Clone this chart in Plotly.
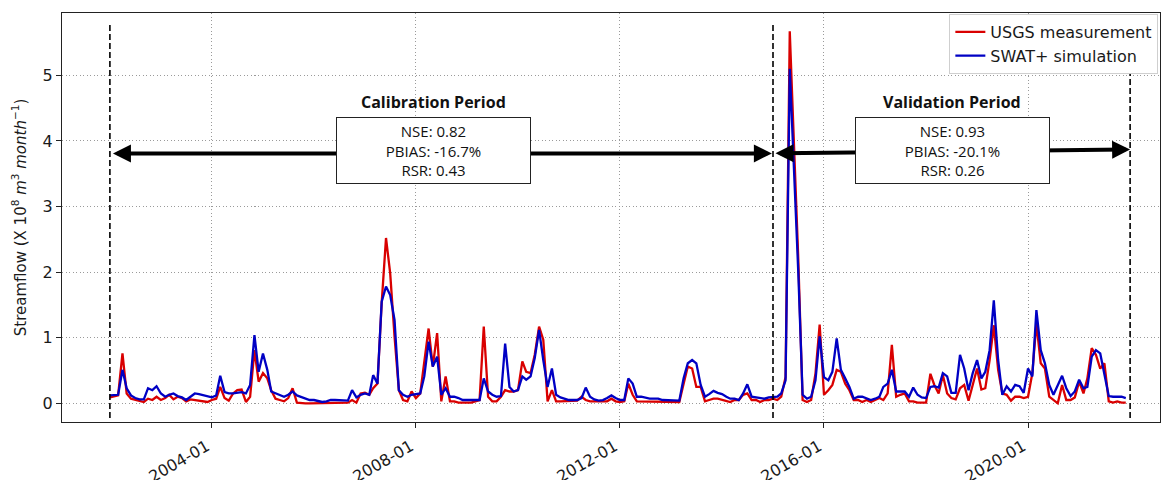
import pandas as pd
import plotly.graph_objects as go

# ---------------- data (monthly, 2002-01 .. 2021-12) ----------------
start_month = "2002-01-01"
n_months = 240

usgs_measurement = [
    # 2002
    0.09, 0.10, 0.12, 0.76, 0.15, 0.07, 0.05, 0.03, 0.02, 0.07, 0.05, 0.10,
    # 2003
    0.05, 0.08, 0.13, 0.06, 0.10, 0.08, 0.03, 0.06, 0.05, 0.03, 0.02, 0.02,
    # 2004
    0.05, 0.07, 0.25, 0.08, 0.04, 0.15, 0.20, 0.21, 0.02, 0.10, 0.81, 0.33,
    # 2005
    0.46, 0.38, 0.20, 0.07, 0.05, 0.03, 0.08, 0.23, 0.01, 0.00, 0.00, 0.00,
    # 2006
    0.00, 0.00, 0.00, 0.00, 0.01, 0.01, 0.00, 0.00, 0.01, 0.05, 0.01, 0.15,
    # 2007
    0.16, 0.13, 0.23, 0.30, 1.53, 2.52, 1.98, 1.02, 0.20, 0.05, 0.03, 0.18,
    # 2008
    0.08, 0.15, 0.64, 1.14, 0.56, 1.07, 0.03, 0.41, 0.03, 0.03, 0.01, 0.01,
    # 2009
    0.01, 0.01, 0.03, 0.05, 1.17, 0.10, 0.03, 0.03, 0.10, 0.20, 0.18, 0.18,
    # 2010
    0.20, 0.64, 0.48, 0.46, 0.74, 1.17, 0.97, 0.03, 0.20, 0.03, 0.03, 0.03,
    # 2011
    0.03, 0.03, 0.04, 0.10, 0.05, 0.03, 0.03, 0.02, 0.03, 0.03, 0.07, 0.03,
    # 2012
    0.02, 0.03, 0.30, 0.13, 0.03, 0.03, 0.02, 0.02, 0.02, 0.02, 0.02, 0.02,
    # 2013
    0.02, 0.02, 0.02, 0.30, 0.56, 0.53, 0.25, 0.25, 0.03, 0.05, 0.07, 0.07,
    # 2014
    0.05, 0.03, 0.02, 0.05, 0.05, 0.13, 0.15, 0.05, 0.05, 0.02, 0.05, 0.05,
    # 2015
    0.07, 0.05, 0.10, 0.40, 5.67, 3.90, 2.20, 0.05, 0.02, 0.05, 0.45, 1.20,
    # 2016
    0.13, 0.20, 0.28, 0.51, 0.48, 0.30, 0.20, 0.05, 0.05, 0.02, 0.05, 0.02,
    # 2017
    0.05, 0.08, 0.05, 0.15, 0.89, 0.10, 0.13, 0.15, 0.03, 0.03, 0.01, 0.01,
    # 2018
    0.01, 0.45, 0.28, 0.15, 0.43, 0.15, 0.08, 0.06, 0.23, 0.28, 0.04, 0.28,
    # 2019
    0.53, 0.21, 0.23, 0.66, 1.19, 0.51, 0.15, 0.13, 0.04, 0.10, 0.10, 0.08,
    # 2020
    0.10, 0.46, 1.22, 0.61, 0.53, 0.10, 0.05, 0.00, 0.28, 0.05, 0.05, 0.09,
    # 2021
    0.33, 0.15, 0.38, 0.84, 0.74, 0.53, 0.61, 0.03, 0.01, 0.03, 0.01, 0.01,
]

swat_simulation = [
    # 2002
    0.12, 0.13, 0.13, 0.51, 0.23, 0.12, 0.08, 0.06, 0.06, 0.23, 0.20, 0.26,
    # 2003
    0.15, 0.10, 0.13, 0.15, 0.11, 0.09, 0.05, 0.10, 0.15, 0.14, 0.12, 0.10,
    # 2004
    0.09, 0.12, 0.42, 0.17, 0.15, 0.15, 0.16, 0.17, 0.15, 0.28, 1.04, 0.48,
    # 2005
    0.76, 0.51, 0.18, 0.15, 0.13, 0.10, 0.13, 0.18, 0.12, 0.10, 0.08, 0.05,
    # 2006
    0.05, 0.03, 0.02, 0.03, 0.05, 0.05, 0.05, 0.04, 0.04, 0.20, 0.09, 0.13,
    # 2007
    0.15, 0.13, 0.43, 0.30, 1.55, 1.78, 1.65, 1.27, 0.20, 0.13, 0.10, 0.13,
    # 2008
    0.14, 0.15, 0.41, 0.94, 0.56, 0.71, 0.13, 0.23, 0.10, 0.10, 0.08, 0.05,
    # 2009
    0.05, 0.05, 0.05, 0.05, 0.38, 0.18, 0.13, 0.10, 0.11, 0.91, 0.25, 0.18,
    # 2010
    0.20, 0.41, 0.36, 0.41, 0.69, 1.12, 0.66, 0.25, 0.53, 0.13, 0.09, 0.07,
    # 2011
    0.05, 0.05, 0.05, 0.08, 0.24, 0.10, 0.06, 0.04, 0.05, 0.08, 0.12, 0.08,
    # 2012
    0.05, 0.05, 0.38, 0.30, 0.10, 0.10, 0.08, 0.07, 0.07, 0.07, 0.05, 0.05,
    # 2013
    0.04, 0.04, 0.04, 0.38, 0.61, 0.66, 0.61, 0.28, 0.10, 0.14, 0.19, 0.16,
    # 2014
    0.14, 0.10, 0.07, 0.07, 0.05, 0.15, 0.29, 0.10, 0.09, 0.07, 0.07, 0.09,
    # 2015
    0.10, 0.10, 0.15, 0.35, 5.10, 3.60, 2.00, 0.13, 0.07, 0.10, 0.35, 1.02,
    # 2016
    0.40, 0.35, 0.48, 0.99, 0.51, 0.38, 0.25, 0.07, 0.10, 0.10, 0.07, 0.05,
    # 2017
    0.07, 0.10, 0.25, 0.30, 0.51, 0.18, 0.18, 0.18, 0.10, 0.24, 0.13, 0.09,
    # 2018
    0.08, 0.25, 0.26, 0.24, 0.46, 0.41, 0.16, 0.16, 0.74, 0.53, 0.20, 0.46,
    # 2019
    0.66, 0.38, 0.48, 0.81, 1.57, 0.66, 0.13, 0.26, 0.18, 0.28, 0.26, 0.16,
    # 2020
    0.53, 0.41, 1.42, 0.81, 0.61, 0.28, 0.13, 0.28, 0.42, 0.23, 0.11, 0.18,
    # 2021
    0.36, 0.23, 0.25, 0.71, 0.81, 0.76, 0.43, 0.11, 0.10, 0.10, 0.10, 0.08,
]

series_names = ["USGS measurement", "SWAT+ simulation"]
period_boundaries = ["2002-01-01", "2015-01-01", "2022-01-01"]
period_titles = ["Calibration Period", "Validation Period"]
period_stats = [
    ["NSE: 0.82", "PBIAS: -16.7%", "RSR: 0.43"],
    ["NSE: 0.93", "PBIAS: -20.1%", "RSR: 0.26"],
]
x_tick_dates = ["2004-01-01", "2008-01-01", "2012-01-01", "2016-01-01", "2020-01-01"]
x_tick_labels = ["2004-01", "2008-01", "2012-01", "2016-01", "2020-01"]
y_tick_values = [0, 1, 2, 3, 4, 5]

dates = pd.date_range(start_month, periods=n_months, freq="MS")

# ---------------- figure ----------------
RED = "#d90000"
BLUE = "#0000c4"
TICK_FONT = dict(family="DejaVu Sans", size=16, color="#1a1a1a")

fig = go.Figure()
fig.add_trace(go.Scatter(x=dates, y=usgs_measurement, mode="lines",
                         name=series_names[0], line=dict(color=RED, width=2.3)))
fig.add_trace(go.Scatter(x=dates, y=swat_simulation, mode="lines",
                         name=series_names[1], line=dict(color=BLUE, width=2.3)))

# vertical dashed period boundaries
for d in period_boundaries:
    fig.add_shape(type="line", xref="x", yref="paper", x0=d, x1=d, y0=0.01, y1=0.975,
                  line=dict(color="black", width=1.6, dash="6px,3px"))

# double-headed arrows
arrow_specs = [
    ("2002-01-12", 3.81, "2014-12-24", 3.81),
    ("2015-01-08", 3.81, "2022-01-01", 3.87),
]
for x0, y0, x1, y1 in arrow_specs:
    fig.add_annotation(x=x1, y=y1, ax=x0, ay=y0, xref="x", yref="y", axref="x", ayref="y",
                       text="", showarrow=True, arrowside="end+start",
                       arrowhead=2, startarrowhead=2, arrowsize=0.9, startarrowsize=0.9,
                       arrowwidth=4, arrowcolor="black", standoff=0, startstandoff=0)

# period boxes
box_centers = [0.3383, 0.8106]
for cx, title, stats in zip(box_centers, period_titles, period_stats):
    fig.add_annotation(x=cx, y=0.665, xref="paper", yref="paper", showarrow=False,
                       text="<br>".join(stats), align="center",
                       font=dict(family="Open Sans", size=15, color="#111"),
                       bgcolor="white", bordercolor="#222", borderwidth=1, borderpad=1,
                       width=191, height=63, xanchor="center", yanchor="middle")
    fig.add_annotation(x=cx, y=0.783, xref="paper", yref="paper", showarrow=False,
                       text="<b>" + title + "</b>",
                       font=dict(family="Open Sans", size=16, color="#111"),
                       xanchor="center", yanchor="middle")

axis_common = dict(showline=True, linecolor="#222", linewidth=1.2, mirror=True,
                   ticks="outside", ticklen=5, tickwidth=1, tickcolor="#222",
                   showgrid=True, gridcolor="#9a9a9a", gridwidth=1, griddash="1px,2.5px",
                   zeroline=False, tickfont=TICK_FONT, automargin=False)

fig.update_layout(
    width=1171, height=480,
    margin=dict(l=62, r=11, t=13, b=58),
    paper_bgcolor="white", plot_bgcolor="white",
    showlegend=True,
    legend=dict(x=0.9985, y=0.9975, xanchor="right", yanchor="top",
                bgcolor="white", bordercolor="#cfcfcf", borderwidth=1,
                font=dict(family="DejaVu Sans", size=16, color="#1a1a1a")),
    xaxis=dict(type="date", range=["2001-01-23", "2022-08-03"],
               tickvals=x_tick_dates, ticktext=x_tick_labels, tickangle=-30,
               ticklabelstandoff=3, ticklabelshift=-5,
               **axis_common),
    yaxis=dict(range=[-0.285, 5.95], tickvals=y_tick_values,
               title=dict(text="Streamflow (X 10<sup>8</sup> <i>m</i><sup>3</sup> <i>month</i><sup>−1</sup>)",
                          font=dict(family="DejaVu Sans", size=15, color="#1a1a1a"), standoff=12),
               **axis_common),
)

fig.write_html("out.html")
